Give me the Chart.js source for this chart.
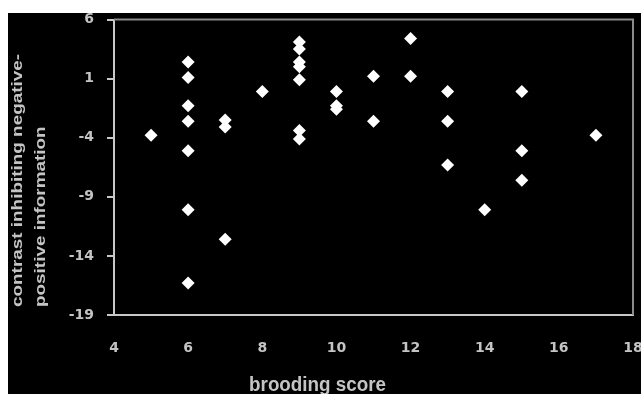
<!DOCTYPE html>
<html>
<head>
<meta charset="utf-8">
<script src="https://cdn.jsdelivr.net/npm/chart.js@4/dist/chart.umd.min.js"></script>
<style>
  body { margin: 0; background: #fff; width: 641px; height: 394px; overflow: hidden; }
  #wrap { position: absolute; left: 8px; top: 13px; width: 633px; height: 381px; background: #000; }
  canvas { display: block; }
</style>
</head>
<body>
<div id="wrap"><canvas id="scatterChart" width="633" height="381"></canvas></div>
<script>
// brooding score for each participant
const broodingScores = [5, 6, 6, 6, 6, 6, 6, 6, 7, 7, 7, 8, 9, 9, 9, 9, 9, 9, 9,
    10, 10, 10, 11, 11, 12, 12, 13, 13, 13, 14, 15, 15, 15, 17];
// contrast inhibiting negative-positive information
const contrastValues = [-3.8, 2.4, 1.1, -1.3, -2.6, -5.1, -10.1, -16.3, -2.5, -3.1, -12.6, -0.1,
    4.1, 3.5, 2.4, 2.0, 0.9, -3.4, -4.1,
    -0.1, -1.3, -1.6, 1.2, -2.6, 4.4, 1.2, -0.1, -2.6, -6.3, -10.1, -0.1, -5.1, -7.6, -3.8];
const xTicks = [4, 6, 8, 10, 12, 14, 16, 18];
const yTicks = [6, 1, -4, -9, -14, -19];
const xTitle = 'brooding score';
const yTitle = ['contrast inhibiting negative-', 'positive information'];

const textColor = '#c4c4c4';

// marco superior y derecho + titulos de ejes
const framePlugin = {
    id: 'frame',
    afterDraw(chart) {
        const { ctx, chartArea } = chart;
        ctx.save();
        ctx.strokeStyle = '#8c8c8c';
        ctx.lineWidth = 2;
        ctx.beginPath();
        ctx.moveTo(chartArea.left, chartArea.top);
        ctx.lineTo(chartArea.right, chartArea.top);
        ctx.lineTo(chartArea.right, chartArea.bottom);
        ctx.stroke();

        ctx.fillStyle = textColor;
        // titulo eje x
        ctx.font = 'bold 20px "Liberation Sans"';
        ctx.textAlign = 'center';
        ctx.textBaseline = 'alphabetic';
        ctx.save();
        ctx.translate(309.5, 378);
        ctx.scale(0.94, 1);
        ctx.fillText(xTitle, 0, 0);
        ctx.restore();

        // titulo eje y (dos lineas, alineado abajo)
        ctx.font = 'bold 15px "Liberation Sans"';
        ctx.textAlign = 'left';
        const baselines = [14, 37];
        yTitle.forEach((line, i) => {
            ctx.save();
            ctx.translate(baselines[i], 294);
            ctx.rotate(-Math.PI / 2);
            ctx.scale(1.26, 1);
            ctx.fillText(line, 0, 0);
            ctx.restore();
        });
        ctx.restore();
    }
};

const ctx = document.getElementById('scatterChart').getContext('2d');
new Chart(ctx, {
    type: 'scatter',
    data: {
        datasets: [{
            data: broodingScores.map((x, i) => ({ x: x, y: contrastValues[i] })),
            pointStyle: 'rectRot',
            pointRadius: 6.5,
            backgroundColor: '#ffffff',
            borderColor: '#ffffff',
            borderWidth: 0
        }]
    },
    options: {
        responsive: false,
        animation: false,
        layout: { padding: { top: 6, right: 8, left: 0, bottom: 0 } },
        plugins: { legend: { display: false }, tooltip: { enabled: false } },
        scales: {
            x: {
                type: 'linear',
                min: 4,
                max: 18,
                afterBuildTicks: (scale) => { scale.ticks = xTicks.map(v => ({ value: v })); },
                afterFit: (scale) => {
                    scale.height = 79;
                    scale.paddingLeft = 0;
                    scale.paddingRight = 0;
                },
                grid: { display: false, drawTicks: false },
                border: { display: true, color: '#c8c8c8', width: 2 },
                ticks: {
                    color: textColor,
                    padding: 25,
                    font: { family: 'DejaVu Sans', size: 14, weight: 'bold' }
                }
            },
            y: {
                min: -19,
                max: 6,
                afterBuildTicks: (scale) => { scale.ticks = yTicks.map(v => ({ value: v })); },
                afterFit: (scale) => {
                    scale.width = 106;
                    scale.paddingTop = 0;
                    scale.paddingBottom = 0;
                },
                grid: { drawOnChartArea: false, drawTicks: true, tickLength: 7, color: '#c8c8c8', lineWidth: 2 },
                border: { display: true, color: '#c8c8c8', width: 2 },
                ticks: {
                    color: textColor,
                    padding: 13,
                    font: { family: 'DejaVu Sans', size: 14, weight: 'bold' }
                }
            }
        }
    },
    plugins: [framePlugin]
});
</script>
</body>
</html>
